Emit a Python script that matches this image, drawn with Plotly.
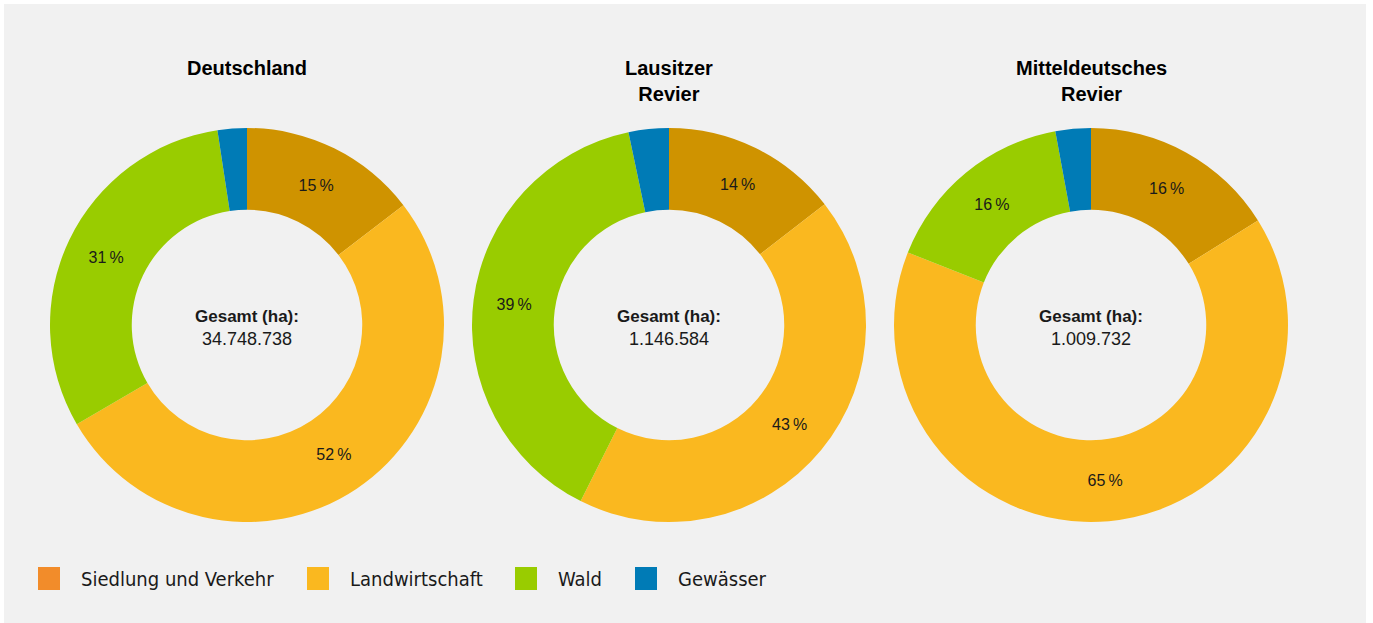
import plotly.graph_objects as go

W, H = 1373, 623

categories = ["Siedlung und Verkehr", "Landwirtschaft", "Wald", "Gewässer"]
regions = ["Deutschland", "Lausitzer<br>Revier", "Mitteldeutsches<br>Revier"]
totals = ["34.748.738", "1.146.584", "1.009.732"]
values_de = [14.6, 52.0, 31.0, 2.4]
values_lr = [14.5, 42.9, 39.3, 3.3]
values_md = [16.1, 64.9, 16.1, 2.9]
slice_colors = ["#CF9300", "#FAB81F", "#99CC00", "#007BB6"]
legend_colors = ["#F28C2A", "#FAB81F", "#99CC00", "#007BB6"]

all_values = [values_de, values_lr, values_md]
centers_x = [247, 669, 1091]
cy = 325
r = 197

FONT = "Liberation Sans, Arial, sans-serif"

fig = go.Figure()

# grey panel
fig.add_shape(type="rect", xref="paper", yref="paper",
              x0=4 / W, x1=1366 / W, y0=0, y1=(H - 4) / H,
              fillcolor="#F1F1F1", line_width=0, layer="below")

for vals, cx, name, tot in zip(all_values, centers_x, regions, totals):
    s = sum(vals)
    texts = [f"{round(v / s * 100)}\u2009%" if v / s > 0.05 else "" for v in vals]
    fig.add_trace(go.Pie(
        labels=categories, values=vals, hole=0.585, sort=False,
        direction="clockwise", rotation=0,
        marker=dict(colors=slice_colors, line=dict(width=0)),
        text=texts, textinfo="text", textposition="inside",
        insidetextorientation="horizontal",
        textfont=dict(family=FONT, size=16, color="#1a1a1a"),
        domain=dict(x=[(cx - r) / W, (cx + r) / W], y=[(H - cy - r) / H, (H - cy + r) / H]),
        showlegend=False, hoverinfo="skip",
    ))
    # title
    fig.add_annotation(x=cx / W, y=(H - 55) / H, xref="paper", yref="paper",
                       text=f"<b>{name}</b>", showarrow=False,
                       xanchor="center", yanchor="top",
                       font=dict(family=FONT, size=20, color="#000"),
                       align="center")
    # center text
    fig.add_annotation(x=cx / W, y=(H - 316) / H, xref="paper", yref="paper",
                       text="<b>Gesamt (ha):</b>", showarrow=False,
                       xanchor="center", yanchor="middle",
                       font=dict(family=FONT, size=17, color="#1a1a1a"))
    fig.add_annotation(x=cx / W, y=(H - 339) / H, xref="paper", yref="paper",
                       text=tot, showarrow=False,
                       xanchor="center", yanchor="middle",
                       font=dict(family=FONT, size=18, color="#1a1a1a"))

# legend
leg_sq_x = [38, 307, 515, 635]
for c, lab, x in zip(legend_colors, categories, leg_sq_x):
    fig.add_shape(type="rect", xref="paper", yref="paper",
                  x0=x / W, x1=(x + 22) / W, y0=(H - 590) / H, y1=(H - 567) / H,
                  fillcolor=c, line_width=0)
    fig.add_annotation(x=(x + 41) / W, y=(H - 578.5) / H, xref="paper", yref="paper",
                       text=lab, showarrow=False, xanchor="left", yanchor="middle",
                       font=dict(family="DejaVu Sans Condensed, Liberation Sans, sans-serif",
                                 size=20, color="#1a1a1a"))

fig.update_layout(width=W, height=H, margin=dict(l=0, r=0, t=0, b=0),
                  paper_bgcolor="white", plot_bgcolor="white")

fig.write_html("out.html", config={"displayModeBar": False},
               post_script="document.body.style.margin='0px';")
